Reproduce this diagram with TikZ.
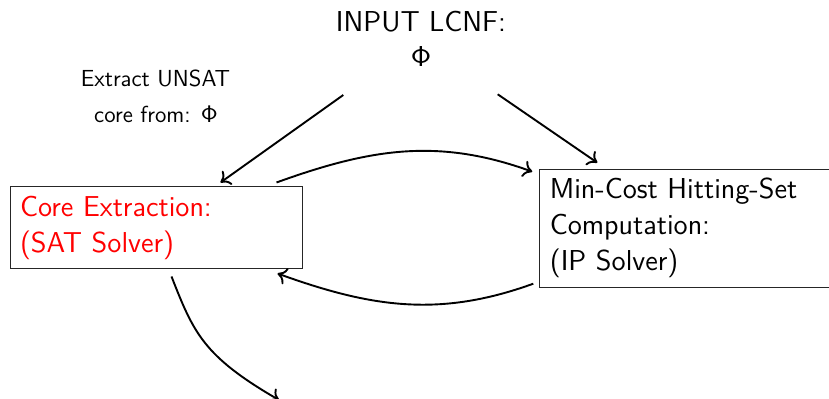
\documentclass[tikz,border=0pt]{standalone}
\usetikzlibrary{calc,arrows.meta}
\begin{document}
\begin{tikzpicture}[x=0.5pt,y=-0.5pt,
  every node/.style={font=\sffamily},
  box/.style={draw=black!85, line width=0.5pt, inner xsep=5pt, inner ysep=0pt, align=left},
  bigtext/.style={font=\sffamily\fontsize{14.4}{18}\selectfont},
  smalltext/.style={font=\sffamily\fontsize{11.6}{13}\selectfont, inner sep=0pt, anchor=base},
  arr/.style={line width=0.95pt, -{To[length=4.5pt,width=8.5pt]}}]
\useasboundingbox (0,0) rectangle (829,399);
\clip (0,0) rectangle (829,399);

% input formula (anchored on the baseline of its last line)
\node[font=\sffamily\fontsize{14.4}{17.4}\selectfont, align=center, inner sep=0pt, anchor=base] (input) at (421,66.7)
  {INPUT LCNF:\\ $\mathsf{\Phi}$};

% annotation
\node[smalltext] (lab1) at (155.5,86.7) {Extract UNSAT};
\node[smalltext] (lab2) at (156,122.7) {core from: $\mathsf{\Phi}$};

% solver boxes
\node[box, bigtext, text=red, minimum width=146pt, minimum height=41pt, text width=136pt] (core) at (156,228) {Core Extraction:\\(SAT Solver)};
\node[box, bigtext, anchor=west, minimum width=170pt, minimum height=59pt, text width=160pt] (hs) at (539.3,228.2) {Min-Cost Hitting-Set\\Computation:\\(IP Solver)};

% connector ends
\coordinate (inL) at (343.3,95);
\coordinate (inR) at (497.7,94.3);
\coordinate (outEnd) at (279,400);

% connectors
\draw[arr] (inL) -- ($(core.north west)+(211,-4)$);
\draw[arr] (inR) -- ($(hs.north west)+(58,-6)$);
\draw[arr] ($(core.north west)+(267,-4)$) .. controls +(94,-34) and +(-94,-34) .. ($(hs.north west)+(-7,3)$);
\draw[arr] ($(hs.south west)+(-6,-4)$) .. controls +(-94,34) and +(94,34) .. ($(core.south east)+(-25,4)$);
\draw[arr] ($(core.south west)+(162,7)$) .. controls +(22,56) and +(-76,-44) .. (outEnd);
\end{tikzpicture}
\end{document}
